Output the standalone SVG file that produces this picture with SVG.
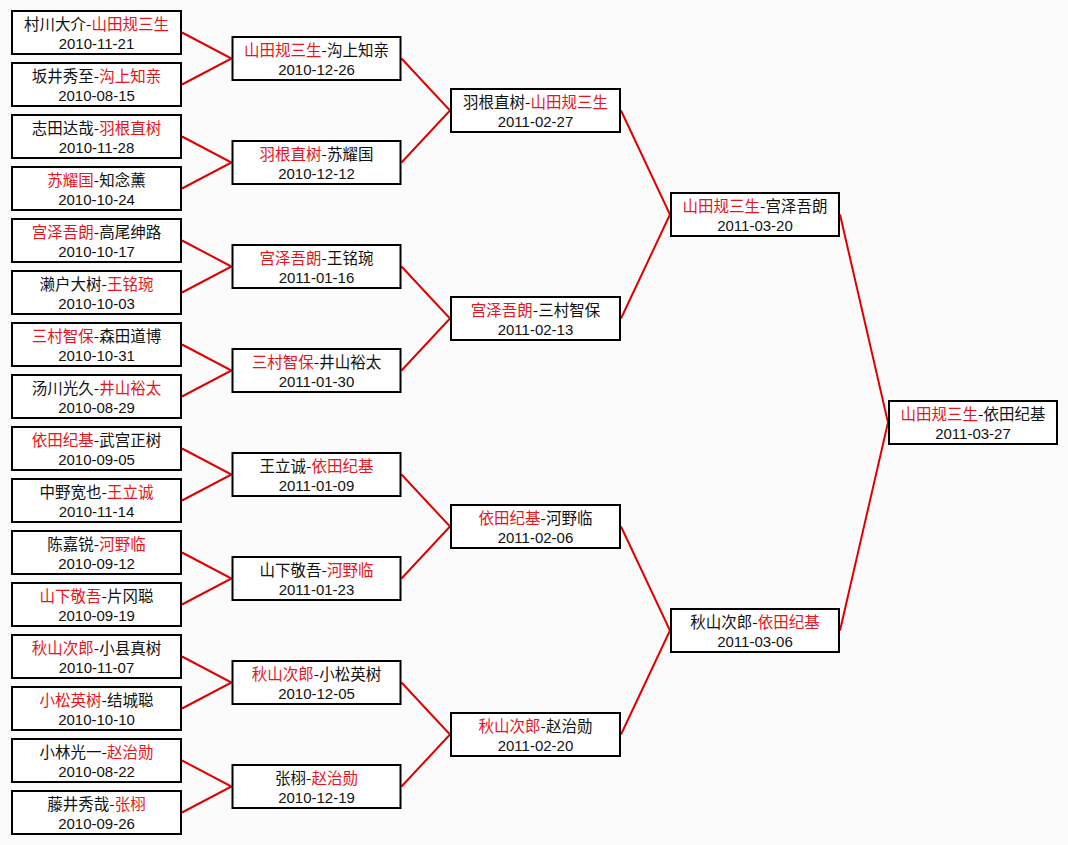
<svg xmlns="http://www.w3.org/2000/svg" width="1068" height="845" viewBox="0 0 1068 845">
<style>
.bg{fill:#fbfbfb}
.box{fill:#fff;stroke:#000;stroke-width:2}
.t{font-family:"Noto Sans CJK SC","Noto Sans",sans-serif;font-size:15.5px;text-anchor:middle;fill:#111}
.d{font-family:"Liberation Sans",Arial,sans-serif;font-size:15px;text-anchor:middle;fill:#111}
.w{fill:#e8141c}
.c{stroke:#e00000;stroke-width:2;fill:none}
</style>
<rect class="bg" x="0" y="0" width="1068" height="845"/>
<g id="connectors">
<polyline class="c" points="182,32.5 231.5,58.5 182,84.5"/>
<polyline class="c" points="182,136.5 231.5,162.5 182,188.5"/>
<polyline class="c" points="182,240.5 231.5,266.5 182,292.5"/>
<polyline class="c" points="182,344.5 231.5,370.5 182,396.5"/>
<polyline class="c" points="182,448.5 231.5,474.5 182,500.5"/>
<polyline class="c" points="182,552.5 231.5,578.5 182,604.5"/>
<polyline class="c" points="182,656.5 231.5,682.5 182,708.5"/>
<polyline class="c" points="182,760.5 231.5,786.5 182,812.5"/>
<polyline class="c" points="401.5,58.5 450,110.5 401.5,162.5"/>
<polyline class="c" points="401.5,266.5 450,318.5 401.5,370.5"/>
<polyline class="c" points="401.5,474.5 450,526.5 401.5,578.5"/>
<polyline class="c" points="401.5,682.5 450,734.5 401.5,786.5"/>
<polyline class="c" points="621,110.5 670,214.5 621,318.5"/>
<polyline class="c" points="621,526.5 670,630.5 621,734.5"/>
<polyline class="c" points="840,214.5 888,422.5 840,630.5"/>
</g>
<g id="r1-01"><rect class="box" x="12" y="11" width="169" height="43"/><text class="t" x="96.5" y="30">村川大介-<tspan class="w">山田规三生</tspan></text><text class="d" x="96.5" y="48.5">2010-11-21</text></g>
<g id="r1-02"><rect class="box" x="12" y="63" width="169" height="43"/><text class="t" x="96.5" y="82">坂井秀至-<tspan class="w">沟上知亲</tspan></text><text class="d" x="96.5" y="100.5">2010-08-15</text></g>
<g id="r1-03"><rect class="box" x="12" y="115" width="169" height="43"/><text class="t" x="96.5" y="134">志田达哉-<tspan class="w">羽根直树</tspan></text><text class="d" x="96.5" y="152.5">2010-11-28</text></g>
<g id="r1-04"><rect class="box" x="12" y="167" width="169" height="43"/><text class="t" x="96.5" y="186"><tspan class="w">苏耀国</tspan>-知念薰</text><text class="d" x="96.5" y="204.5">2010-10-24</text></g>
<g id="r1-05"><rect class="box" x="12" y="219" width="169" height="43"/><text class="t" x="96.5" y="238"><tspan class="w">宫泽吾朗</tspan>-高尾绅路</text><text class="d" x="96.5" y="256.5">2010-10-17</text></g>
<g id="r1-06"><rect class="box" x="12" y="271" width="169" height="43"/><text class="t" x="96.5" y="290">濑户大树-<tspan class="w">王铭琬</tspan></text><text class="d" x="96.5" y="308.5">2010-10-03</text></g>
<g id="r1-07"><rect class="box" x="12" y="323" width="169" height="43"/><text class="t" x="96.5" y="342"><tspan class="w">三村智保</tspan>-森田道博</text><text class="d" x="96.5" y="360.5">2010-10-31</text></g>
<g id="r1-08"><rect class="box" x="12" y="375" width="169" height="43"/><text class="t" x="96.5" y="394">汤川光久-<tspan class="w">井山裕太</tspan></text><text class="d" x="96.5" y="412.5">2010-08-29</text></g>
<g id="r1-09"><rect class="box" x="12" y="427" width="169" height="43"/><text class="t" x="96.5" y="446"><tspan class="w">依田纪基</tspan>-武宫正树</text><text class="d" x="96.5" y="464.5">2010-09-05</text></g>
<g id="r1-10"><rect class="box" x="12" y="479" width="169" height="43"/><text class="t" x="96.5" y="498">中野宽也-<tspan class="w">王立诚</tspan></text><text class="d" x="96.5" y="516.5">2010-11-14</text></g>
<g id="r1-11"><rect class="box" x="12" y="531" width="169" height="43"/><text class="t" x="96.5" y="550">陈嘉锐-<tspan class="w">河野临</tspan></text><text class="d" x="96.5" y="568.5">2010-09-12</text></g>
<g id="r1-12"><rect class="box" x="12" y="583" width="169" height="43"/><text class="t" x="96.5" y="602"><tspan class="w">山下敬吾</tspan>-片冈聪</text><text class="d" x="96.5" y="620.5">2010-09-19</text></g>
<g id="r1-13"><rect class="box" x="12" y="635" width="169" height="43"/><text class="t" x="96.5" y="654"><tspan class="w">秋山次郎</tspan>-小县真树</text><text class="d" x="96.5" y="672.5">2010-11-07</text></g>
<g id="r1-14"><rect class="box" x="12" y="687" width="169" height="43"/><text class="t" x="96.5" y="706"><tspan class="w">小松英树</tspan>-结城聪</text><text class="d" x="96.5" y="724.5">2010-10-10</text></g>
<g id="r1-15"><rect class="box" x="12" y="739" width="169" height="43"/><text class="t" x="96.5" y="758">小林光一-<tspan class="w">赵治勋</tspan></text><text class="d" x="96.5" y="776.5">2010-08-22</text></g>
<g id="r1-16"><rect class="box" x="12" y="791" width="169" height="43"/><text class="t" x="96.5" y="810">藤井秀哉-<tspan class="w">张栩</tspan></text><text class="d" x="96.5" y="828.5">2010-09-26</text></g>
<g id="r2-1"><rect class="box" x="232.5" y="37" width="168" height="43"/><text class="t" x="316.5" y="56"><tspan class="w">山田规三生</tspan>-沟上知亲</text><text class="d" x="316.5" y="74.5">2010-12-26</text></g>
<g id="r2-2"><rect class="box" x="232.5" y="141" width="168" height="43"/><text class="t" x="316.5" y="160"><tspan class="w">羽根直树</tspan>-苏耀国</text><text class="d" x="316.5" y="178.5">2010-12-12</text></g>
<g id="r2-3"><rect class="box" x="232.5" y="245" width="168" height="43"/><text class="t" x="316.5" y="264"><tspan class="w">宫泽吾朗</tspan>-王铭琬</text><text class="d" x="316.5" y="282.5">2011-01-16</text></g>
<g id="r2-4"><rect class="box" x="232.5" y="349" width="168" height="43"/><text class="t" x="316.5" y="368"><tspan class="w">三村智保</tspan>-井山裕太</text><text class="d" x="316.5" y="386.5">2011-01-30</text></g>
<g id="r2-5"><rect class="box" x="232.5" y="453" width="168" height="43"/><text class="t" x="316.5" y="472">王立诚-<tspan class="w">依田纪基</tspan></text><text class="d" x="316.5" y="490.5">2011-01-09</text></g>
<g id="r2-6"><rect class="box" x="232.5" y="557" width="168" height="43"/><text class="t" x="316.5" y="576">山下敬吾-<tspan class="w">河野临</tspan></text><text class="d" x="316.5" y="594.5">2011-01-23</text></g>
<g id="r2-7"><rect class="box" x="232.5" y="661" width="168" height="43"/><text class="t" x="316.5" y="680"><tspan class="w">秋山次郎</tspan>-小松英树</text><text class="d" x="316.5" y="698.5">2010-12-05</text></g>
<g id="r2-8"><rect class="box" x="232.5" y="765" width="168" height="43"/><text class="t" x="316.5" y="784">张栩-<tspan class="w">赵治勋</tspan></text><text class="d" x="316.5" y="802.5">2010-12-19</text></g>
<g id="r3-1"><rect class="box" x="451" y="89" width="169" height="43"/><text class="t" x="535.5" y="108">羽根直树-<tspan class="w">山田规三生</tspan></text><text class="d" x="535.5" y="126.5">2011-02-27</text></g>
<g id="r3-2"><rect class="box" x="451" y="297" width="169" height="43"/><text class="t" x="535.5" y="316"><tspan class="w">宫泽吾朗</tspan>-三村智保</text><text class="d" x="535.5" y="334.5">2011-02-13</text></g>
<g id="r3-3"><rect class="box" x="451" y="505" width="169" height="43"/><text class="t" x="535.5" y="524"><tspan class="w">依田纪基</tspan>-河野临</text><text class="d" x="535.5" y="542.5">2011-02-06</text></g>
<g id="r3-4"><rect class="box" x="451" y="713" width="169" height="43"/><text class="t" x="535.5" y="732"><tspan class="w">秋山次郎</tspan>-赵治勋</text><text class="d" x="535.5" y="750.5">2011-02-20</text></g>
<g id="r4-1"><rect class="box" x="671" y="193" width="168" height="43"/><text class="t" x="755" y="212"><tspan class="w">山田规三生</tspan>-宫泽吾朗</text><text class="d" x="755" y="230.5">2011-03-20</text></g>
<g id="r4-2"><rect class="box" x="671" y="609" width="168" height="43"/><text class="t" x="755" y="628">秋山次郎-<tspan class="w">依田纪基</tspan></text><text class="d" x="755" y="646.5">2011-03-06</text></g>
<g id="final"><rect class="box" x="889" y="401" width="168" height="43"/><text class="t" x="973" y="420"><tspan class="w">山田规三生</tspan>-依田纪基</text><text class="d" x="973" y="438.5">2011-03-27</text></g>
</svg>
